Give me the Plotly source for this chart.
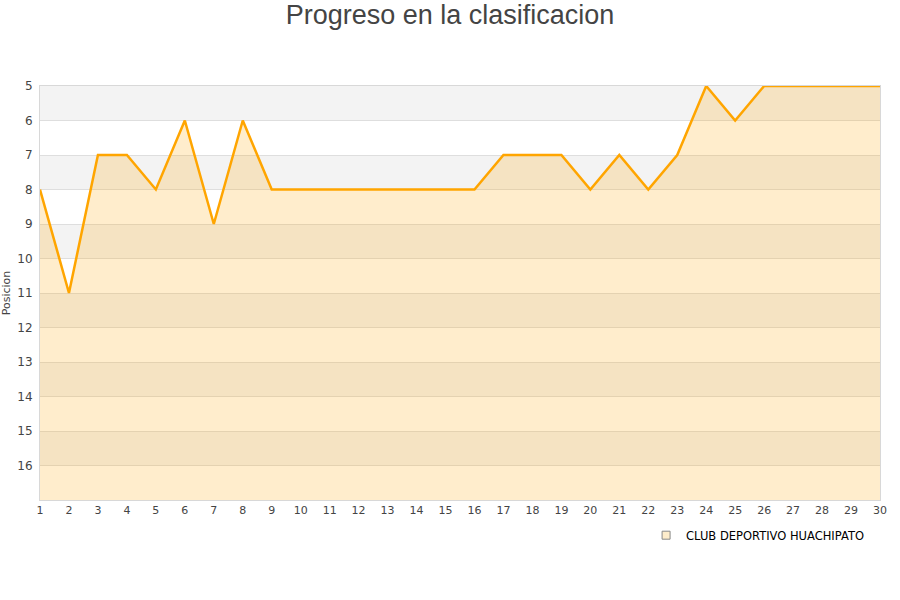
import plotly.graph_objects as go

# jornadas y posicion del equipo
jornadas = list(range(1, 31))
posiciones = [8, 11, 7, 7, 8, 6, 9, 6, 8, 8,
              8, 8, 8, 8, 8, 8, 7, 7, 7, 8,
              7, 8, 7, 5, 6, 5, 5, 5, 5, 5]
y_ticks = list(range(5, 17))
equipo = "CLUB DEPORTIVO HUACHIPATO"

y_top, y_bottom = 5, 17
fill_color = "rgba(255,165,0,0.2)"
line_color = "#ffa500"

fig = go.Figure()

# baseline at bottom of the axis so the fill goes down, not to zero
fig.add_trace(go.Scatter(x=jornadas, y=[y_bottom] * len(jornadas), mode="lines",
                         line=dict(width=0), hoverinfo="skip", showlegend=False))
fig.add_trace(go.Scatter(x=jornadas, y=posiciones, mode="lines", fill="tonexty",
                         fillcolor=fill_color, line=dict(color=line_color, width=2.5),
                         name=equipo, showlegend=False))
# legend-only entry with a square swatch
fig.add_trace(go.Scatter(x=[None], y=[None], mode="markers", name=equipo,
                         marker=dict(symbol="square", size=8, color="#fdeccb",
                                     line=dict(color="#888", width=1))))

# alternating bands
shapes = []
for y0 in range(y_top, y_bottom, 2):
    shapes.append(dict(type="rect", xref="paper", yref="y", x0=0, x1=1, y0=y0, y1=y0 + 1,
                       fillcolor="#f3f3f3", line=dict(width=0), layer="below"))

fig.update_layout(
    width=900, height=600,
    paper_bgcolor="white", plot_bgcolor="white",
    margin=dict(l=40, r=20, t=86, b=100, autoexpand=False),
    font=dict(family="DejaVu Sans", size=11, color="#444"),
    title=dict(text="Progreso en la clasificacion", x=0.5, xanchor="center",
               yref="container", y=1 - 15 / 600, yanchor="middle",
               font=dict(family="Liberation Sans", size=27, color="#444")),
    shapes=shapes,
    showlegend=True,
    legend=dict(orientation="h", x=0.987, xanchor="right", y=-0.05, yanchor="top",
                font=dict(size=11.5, color="#000"), bgcolor="rgba(0,0,0,0)"),
    xaxis=dict(range=[1, 30], tickmode="array", tickvals=jornadas, showgrid=False,
               showline=True, linecolor="#d8d8d8", mirror=True, zeroline=False,
               ticks="", automargin=False, tickfont=dict(size=11, color="#444")),
    yaxis=dict(range=[y_bottom, y_top], tickmode="array", tickvals=y_ticks,
               showgrid=True, gridcolor="#dedede", showline=True, linecolor="#d8d8d8",
               mirror=True, zeroline=False, ticks="", automargin=False, ticklabelstandoff=4,
               title=dict(text="Posicion", font=dict(size=11, color="#444"), standoff=4),
               tickfont=dict(size=12, color="#444")),
)

# drop the default page margin so the figure sits at the window corner
fig.write_html("out.html", config={"displayModeBar": False},
               post_script="document.body.style.margin='0';")
